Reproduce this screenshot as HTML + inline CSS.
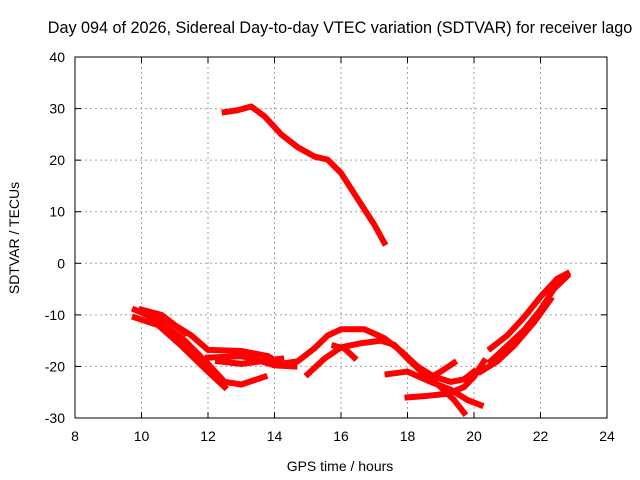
<!DOCTYPE html>
<html><head><meta charset="utf-8"><style>
body{margin:0;background:#fff}
svg{display:block;font-family:"Liberation Sans",sans-serif}
</style></head><body>
<svg id="chart" width="640" height="480">
<text x="340" y="33" font-size="16.2" text-anchor="middle">Day 094 of 2026, Sidereal Day-to-day VTEC variation (SDTVAR) for receiver lago</text>
<text x="340" y="471" font-size="14" text-anchor="middle">GPS time / hours</text>
<text transform="translate(19,238) rotate(-90)" font-size="14" text-anchor="middle">SDTVAR / TECUs</text>
<g id="grid"></g>
<g id="ticks"></g>
<g id="series"></g>
<rect x="75" y="57" width="532" height="361" fill="none" stroke="#000" stroke-width="1"/>
</svg>
<script>
const xTicks=[8,10,12,14,16,18,20,22,24];
const yTicks=[-30,-20,-10,0,10,20,30,40];
const tracks=[
[[12.5,29.3],[12.9,29.7],[13.3,30.4],[13.7,28.5],[14.2,25],[14.7,22.5],[15.2,20.7],[15.6,20.1],[16,17.5],[16.5,12.5],[17,7.5],[17.3,4]],
[[9.8,-9],[10.5,-11],[11.3,-15],[12,-19.5],[12.5,-23],[13,-23.5],[13.7,-22]],
[[9.8,-10.5],[10.5,-12],[11.2,-16],[12,-21],[12.5,-24]],
[[10,-9],[10.6,-10],[11,-12],[11.5,-14],[12,-16.8],[13,-17],[13.8,-18],[14.2,-19.5],[14.7,-19],[15.2,-16.5],[15.6,-14],[16,-12.8],[16.7,-12.8],[17.3,-14.5],[17.8,-17],[18.3,-20],[18.8,-22],[19.3,-23],[19.7,-22.5],[20,-21]],
[[10,-9.5],[10.8,-11],[11.3,-13.5]],
[[12,-18.3],[13,-18],[13.5,-18.8],[14,-19.8],[14.6,-20]],
[[12.3,-19],[13,-19.5],[13.6,-19],[14.2,-18.5]],
[[15,-21.5],[15.5,-18.5],[16,-16.3],[16.6,-15.5],[17.2,-15],[17.6,-15.8],[18,-18.5],[18.5,-21.5],[19,-24],[19.4,-26.5],[19.7,-29]],
[[15.8,-16],[16.1,-16.5],[16.4,-18.3]],
[[17.4,-21.5],[18,-21],[18.7,-23],[19.3,-24.5],[19.8,-26.5],[20.2,-27.5]],
[[18,-26],[18.6,-25.7],[19.2,-25.3],[19.7,-24],[20,-22],[20.3,-19]],
[[18.6,-22.5],[19,-21],[19.4,-19.3]],
[[20.5,-16.5],[21,-14],[21.5,-10.5],[22,-6.5],[22.5,-3],[22.8,-2]],
[[20.5,-19],[21,-16],[21.5,-13],[22,-9],[22.4,-5],[22.8,-2.5]],
[[20.2,-21],[20.7,-19],[21.2,-16],[21.8,-11.5],[22.3,-7]]
];
const NS="http://www.w3.org/2000/svg";
const X0=75,X1=607,Y0=418,Y1=57;
const sx=v=>X0+(v-8)/(24-8)*(X1-X0);
const sy=v=>Y0-(v+30)/(40+30)*(Y0-Y1);
const grid=document.getElementById('grid'),ticks=document.getElementById('ticks'),ser=document.getElementById('series');
function mk(tag,attrs,parent){const e=document.createElementNS(NS,tag);for(const k in attrs)e.setAttribute(k,attrs[k]);parent.appendChild(e);return e;}
xTicks.forEach(t=>{const x=sx(t);
 if(t>8&&t<24){const g=mk('line',{x1:x,x2:x,y1:Y1,y2:Y0,stroke:'#a0a0a0','stroke-dasharray':'2,3'},grid);
 
 }
 mk('line',{x1:x,x2:x,y1:Y0,y2:Y0-6,stroke:'#000'},ticks);
 mk('line',{x1:x,x2:x,y1:Y1,y2:Y1+6,stroke:'#000'},ticks);
 const l=mk('text',{x:x,y:Y0+23,'font-size':14,'text-anchor':'middle'},ticks);l.textContent=t;
 
 });
yTicks.forEach(t=>{const y=sy(t);
 if(t>-30&&t<40){const g=mk('line',{x1:X0,x2:X1,y1:y,y2:y,stroke:'#a0a0a0','stroke-dasharray':'2,3'},grid);
 
 }
 mk('line',{x1:X0,x2:X0+6,y1:y,y2:y,stroke:'#000'},ticks);
 mk('line',{x1:X1,x2:X1-6,y1:y,y2:y,stroke:'#000'},ticks);
 const l=mk('text',{x:X0-10,y:y+5,'font-size':14,'text-anchor':'end'},ticks);l.textContent=t;
 
 });
tracks.forEach((tr,i)=>{
 const p=mk('polyline',{points:tr.map(d=>sx(d[0])+','+sy(d[1])).join(' '),fill:'none',stroke:'#ff0000','stroke-width':6,'stroke-linejoin':'round','stroke-linecap':'square'},ser);
 
 
});
</script>
</body></html>
